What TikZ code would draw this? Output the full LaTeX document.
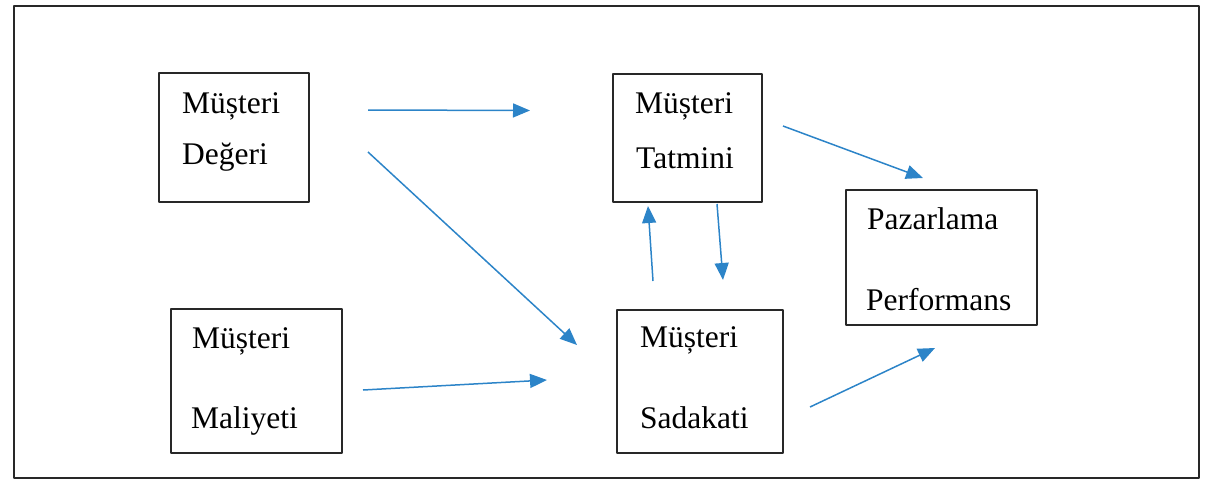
\documentclass[tikz,border=0pt]{standalone}
\usepackage{fontspec}
\setmainfont{Liberation Serif}
\usetikzlibrary{arrows.meta}

\definecolor{linkblue}{RGB}{44,132,200}
\definecolor{framegray}{RGB}{40,40,40}

\tikzset{
  box/.style={draw=framegray, line width=2pt, rectangle, inner sep=0pt},
  txt/.style={anchor=base west, inner sep=0pt, font=\fontsize{31.5}{38}\selectfont},
  link/.style={-{Triangle[length=17pt,width=14pt]}, draw=linkblue, line width=1.5pt}
}

\begin{document}
\begin{tikzpicture}[x=1pt, y=-1pt, line join=round]

\useasboundingbox (0,0) rectangle (1215,483);

% outer frame
\draw[framegray, line width=2pt] (14,6) rectangle (1199,478);

% boxes
\node[box, minimum width=150pt, minimum height=129pt] (deger) at (234,137.5) {};
\node[box, minimum width=149pt, minimum height=128pt] (tatmin) at (687.5,138) {};
\node[box, minimum width=171pt, minimum height=144pt] (maliyet) at (256.5,381) {};
\node[box, minimum width=166pt, minimum height=143pt] (sadakat) at (700,381.5) {};
\node[box, minimum width=191pt, minimum height=135pt] (pazar) at (941.5,257.5) {};

% box texts
\node[txt] (deger1) at (182,113) {Müșteri};
\node[txt] (deger2) at (182,164) {Değeri};
\node[txt] (tatmin1) at (635,113) {Müșteri};
\node[txt] (tatmin2) at (636,168) {Tatmini};
\node[txt] (maliyet1) at (192,348) {Müșteri};
\node[txt] (maliyet2) at (191,428) {Maliyeti};
\node[txt] (sadakat1) at (640,347) {Müșteri};
\node[txt] (sadakat2) at (640,428) {Sadakati};
\node[txt] (pazar1) at (867,229) {Pazarlama};
\node[txt] (pazar2) at (866,310) {Performans};

% arrow ends (they float next to the boxes)
\coordinate (dgOut1) at (368,110);
\coordinate (tmIn1) at (530,110.5);
\coordinate (dgOut2) at (368,152);
\coordinate (sdIn1) at (577,345);
\coordinate (mlOut) at (363,390);
\coordinate (sdIn2) at (547,380);
\coordinate (tmOut) at (783,126);
\coordinate (pzIn1) at (923,178);
\coordinate (sdOut) at (810,407);
\coordinate (pzIn2) at (935,348);
\coordinate (sdUp) at (653,281);
\coordinate (tmIn2) at (648,206);
\coordinate (tmDown) at (717,204);
\coordinate (sdIn3) at (723,280);

% arrows
\draw[link] (dgOut1) -- (tmIn1);
\draw[link] (dgOut2) -- (sdIn1);
\draw[link] (mlOut) -- (sdIn2);
\draw[link] (tmOut) -- (pzIn1);
\draw[link] (sdOut) -- (pzIn2);
\draw[link] (sdUp) -- (tmIn2);
\draw[link] (tmDown) -- (sdIn3);

\end{tikzpicture}
\end{document}
